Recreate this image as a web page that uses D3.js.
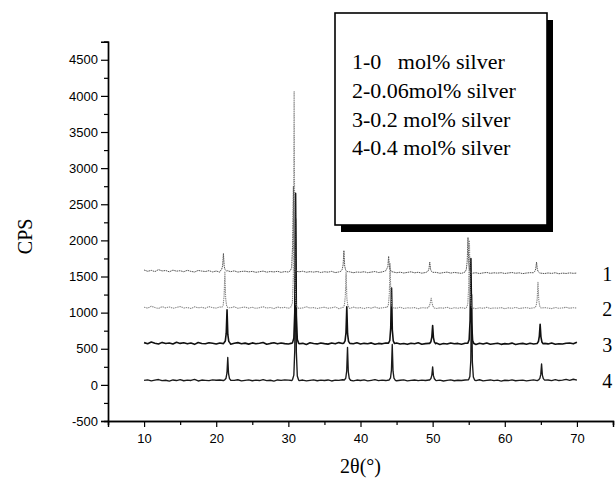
<!DOCTYPE html>
<html><head><meta charset="utf-8">
<script src="https://cdn.jsdelivr.net/npm/d3@7"></script>
<style>body{margin:0;background:#fff}</style></head>
<body>
<svg id="c" width="616" height="482"></svg>
<script>
// ---------------- DATA ----------------
const thetaStart = 10, thetaStep = 0.5;   // baseline grid 10..70
const base1 = [1590,1572,1585,1568,1595,1577,1583,1565,1588,1574,
 1580,1566,1586,1571,1562,1584,1575,1569,1581,1563,
 1576,1560,1573,1582,1567,1578,1561,1570,1574,1564,
 1571,1558,1566,1575,1560,1569,1563,1572,1557,1568,
 1562,1570,1556,1565,1573,1559,1567,1561,1569,1555,
 1566,1560,1571,1554,1563,1568,1557,1565,1552,1562,
 1558,1566,1553,1561,1569,1555,1563,1550,1559,1564,
 1552,1560,1548,1557,1565,1551,1559,1546,1555,1562,
 1549,1557,1545,1554,1561,1547,1556,1550,1543,1553,
 1558,1546,1552,1541,1550,1556,1544,1551,1547,1553,
 1542,1549,1555,1545,1551,1540,1548,1553,1544,1550,
 1546,1541,1549,1543,1552,1538,1547,1542,1550,1544,1548];
const base2 = [1075,1062,1088,1070,1058,1082,1066,1079,1060,1072,
 1085,1064,1071,1058,1080,1067,1074,1061,1083,1069,
 1063,1078,1057,1072,1066,1081,1060,1070,1076,1062,
 1074,1059,1068,1082,1063,1071,1056,1077,1065,1073,
 1060,1069,1075,1058,1066,1080,1062,1071,1057,1068,
 1074,1061,1067,1079,1055,1070,1064,1058,1076,1063,
 1069,1056,1072,1062,1078,1059,1066,1073,1057,1068,
 1061,1075,1058,1067,1063,1071,1054,1069,1065,1060,
 1072,1057,1066,1062,1074,1055,1068,1061,1070,1059,
 1064,1071,1056,1067,1060,1073,1058,1065,1062,1069,
 1055,1066,1061,1072,1057,1064,1070,1059,1067,1062,
 1058,1069,1063,1056,1071,1060,1066,1074,1061,1068,1063];
const base3 = [585,570,592,576,565,588,572,580,566,590,
 574,583,568,579,561,586,573,569,584,575,
 566,580,571,589,563,577,585,570,578,564,
 581,569,576,587,562,574,583,568,579,571,
 565,578,586,570,575,560,582,573,567,580,
 571,564,579,568,585,572,561,577,569,583,
 566,575,570,581,562,574,568,579,564,572,
 580,566,573,561,577,569,584,563,571,575,
 567,578,560,572,565,580,569,574,562,576,
 568,573,559,575,566,579,562,570,576,561,
 571,565,578,560,569,574,563,577,566,572,
 560,574,567,579,562,570,565,576,580,568,590];
const base4 = [62,70,55,66,74,58,64,52,68,60,
 72,57,65,61,75,54,67,63,58,70,
 64,68,60,66,58,62,71,55,63,69,
 57,66,60,73,59,64,52,68,62,70,
 66,60,64,58,67,55,63,70,57,65,
 60,68,54,66,62,71,58,64,56,67,
 61,69,55,63,72,58,65,60,66,62,
 57,64,70,56,62,67,59,65,61,68,
 63,58,66,54,62,69,57,64,60,67,
 62,66,59,71,55,63,68,58,65,52,
 64,60,69,57,62,66,55,63,70,59,
 64,61,67,58,72,60,66,75,62,78,65];

// peak profiles: centre (2theta) and CPS at the sample offsets below
const peakOffsets = [-0.42,-0.24,-0.11,0,0.11,0.24,0.42];
const peaks1 = [
 {c:21.0, v:[1578,1600,1650,1820,1636,1595,1575]},
 {c:30.7, v:[1580,1625,1940,2750,1880,1612,1572]},
 {c:37.7, v:[1572,1598,1660,1860,1645,1590,1568]},
 {c:43.9, v:[1578,1610,1640,1780,1625,1590,1566]},
 {c:49.6, v:[1562,1574,1605,1700,1600,1570,1558]},
 {c:54.9, v:[1562,1595,1710,2040,1690,1582,1556]},
 {c:64.4, v:[1552,1572,1605,1700,1598,1566,1550]}];
const peaks2 = [
 {c:21.2, v:[1075,1102,1225,1560,1200,1092,1070]},
 {c:30.8, v:[1080,1135,1520,4060,1440,1118,1072]},
 {c:38.0, v:[1072,1102,1220,1560,1198,1096,1068]},
 {c:44.1, v:[1072,1108,1250,1680,1230,1100,1066]},
 {c:49.8, v:[1066,1094,1145,1200,1138,1088,1064]},
 {c:55.1, v:[1070,1112,1330,2000,1300,1102,1064]},
 {c:64.6, v:[1068,1098,1185,1420,1175,1092,1064]}];
const peaks3 = [
 {c:21.5, v:[582,608,715,1040,695,602,578]},
 {c:31.0, v:[585,645,1010,2650,960,628,578]},
 {c:38.1, v:[578,608,725,1080,705,602,574]},
 {c:44.3, v:[578,614,790,1340,760,608,572]},
 {c:50.0, v:[573,598,665,820,655,592,570]},
 {c:55.3, v:[578,625,890,1750,860,612,572]},
 {c:64.9, v:[573,600,675,840,665,594,570]}];
const peaks4 = [
 {c:21.6, v:[68,92,165,380,155,86,64]},
 {c:31.0, v:[75,135,490,2300,450,122,68]},
 {c:38.2, v:[68,95,195,520,180,90,64]},
 {c:44.4, v:[68,98,205,560,190,92,64]},
 {c:50.0, v:[66,88,135,250,128,84,64]},
 {c:55.4, v:[70,115,340,1250,310,108,66]},
 {c:65.1, v:[68,90,145,290,136,86,66]}];

const curveLabels = ["1","2","3","4"];
const legendLines = ["1-0   mol% silver","2-0.06mol% silver","3-0.2 mol% silver","4-0.4 mol% silver"];
const yTicks = [-500,0,500,1000,1500,2000,2500,3000,3500,4000,4500];
const xTicks = [10,20,30,40,50,60,70];
const xTitle = "2θ(°)", yTitle = "CPS";

// ---------------- BUILD ----------------
function build(base, peaks){
  const lo = peakOffsets[0], hi = peakOffsets[peakOffsets.length-1];
  const pts = [];
  base.forEach((v,i)=>{
    const t = thetaStart + i*thetaStep;
    const inPeak = peaks.some(p => t >= p.c+lo-1e-6 && t <= p.c+hi+1e-6);
    if(!inPeak) pts.push([t,v]);
  });
  peaks.forEach(p => p.v.forEach((val,k) => pts.push([p.c+peakOffsets[k], val])));
  pts.sort((a,b)=>a[0]-b[0]);
  return pts;
}
const series = [
  {name:curveLabels[0], pts:build(base1,peaks1), color:"#555", width:1.0, dash:"1.6,0.7", end:1544},
  {name:curveLabels[1], pts:build(base2,peaks2), color:"#888", width:1.1, dash:"1.4,0.8", end:1063},
  {name:curveLabels[2], pts:build(base3,peaks3), color:"#111", width:1.6, dash:null, end:570},
  {name:curveLabels[3], pts:build(base4,peaks4), color:"#1a1a1a", width:1.35, dash:null, end:65}
];

const svg = d3.select("#c");
const x = d3.scaleLinear().domain([5,75]).range([108,613]);
const y = d3.scaleLinear().domain([-500,4750]).range([421,41.7]);

// curves
const line = d3.line().x(d=>x(d[0])).y(d=>y(d[1]));
[...series].reverse().forEach(s=>{
  svg.append("path").datum(s.pts).attr("d",line)
    .attr("fill","none").attr("stroke",s.color).attr("stroke-width",s.width)
    .attr("stroke-linejoin","round")
    .attr("stroke-dasharray",s.dash);
});

// axes
const yAxis = d3.axisLeft(y).tickValues(yTicks).tickSize(7).tickPadding(3).tickFormat(d=>String(d));
const yMinor = d3.axisLeft(y).tickValues(d3.range(-500,4751,250).filter(v=>!yTicks.includes(v))).tickSize(4).tickFormat("");
const xAxis = d3.axisBottom(x).tickValues(xTicks).tickSize(6).tickPadding(7);
const xMinor = d3.axisBottom(x).tickValues(d3.range(5,76,10)).tickSize(4).tickFormat("");

function style(g){
  g.select(".domain").attr("stroke","#000").attr("stroke-width",1.4);
  g.selectAll(".tick line").attr("stroke","#000").attr("stroke-width",1.2);
  g.selectAll("text").attr("font-family","'Liberation Sans', Arial, sans-serif").attr("font-size",13).attr("fill","#000");
}
svg.append("g").attr("transform",`translate(${x(5)},0)`).call(yAxis).call(style);
svg.append("g").attr("transform",`translate(${x(5)},0)`).call(yMinor).call(style);
svg.append("g").attr("transform",`translate(0,${y(-500)})`).call(xAxis).call(style);
svg.append("g").attr("transform",`translate(0,${y(-500)})`).call(xMinor).call(style);

// titles
svg.append("text").attr("x",x(40)).attr("y",473).attr("text-anchor","middle")
  .attr("font-family","'Liberation Serif','Times New Roman',serif").attr("font-size",20).text(xTitle);
svg.append("text").attr("transform",`translate(32,${(y(-500)+y(4750))/2+5}) rotate(-90)`)
  .attr("text-anchor","middle")
  .attr("font-family","'Liberation Serif','Times New Roman',serif").attr("font-size",20).text(yTitle);

// curve labels
series.forEach(s=>{
  svg.append("text").attr("x",x(74.2)).attr("y",y(s.end)+8).attr("text-anchor","middle")
    .attr("font-family","'Liberation Serif','Times New Roman',serif").attr("font-size",20).text(s.name);
});

// legend box
const bx=335, by=13, bw=212, bh=212;
svg.append("rect").attr("x",bx+6).attr("y",by+7).attr("width",bw).attr("height",bh).attr("fill","#000");
svg.append("rect").attr("x",bx).attr("y",by).attr("width",bw).attr("height",bh)
  .attr("fill","#fff").attr("stroke","#000").attr("stroke-width",1.6);
legendLines.forEach((t,i)=>{
  svg.append("text").attr("x",bx+17).attr("y",by+56+i*28.8)
    .attr("font-family","'Liberation Serif','Times New Roman',serif").attr("font-size",22)
    .style("white-space","pre").text(t);
});
</script>
</body></html>
